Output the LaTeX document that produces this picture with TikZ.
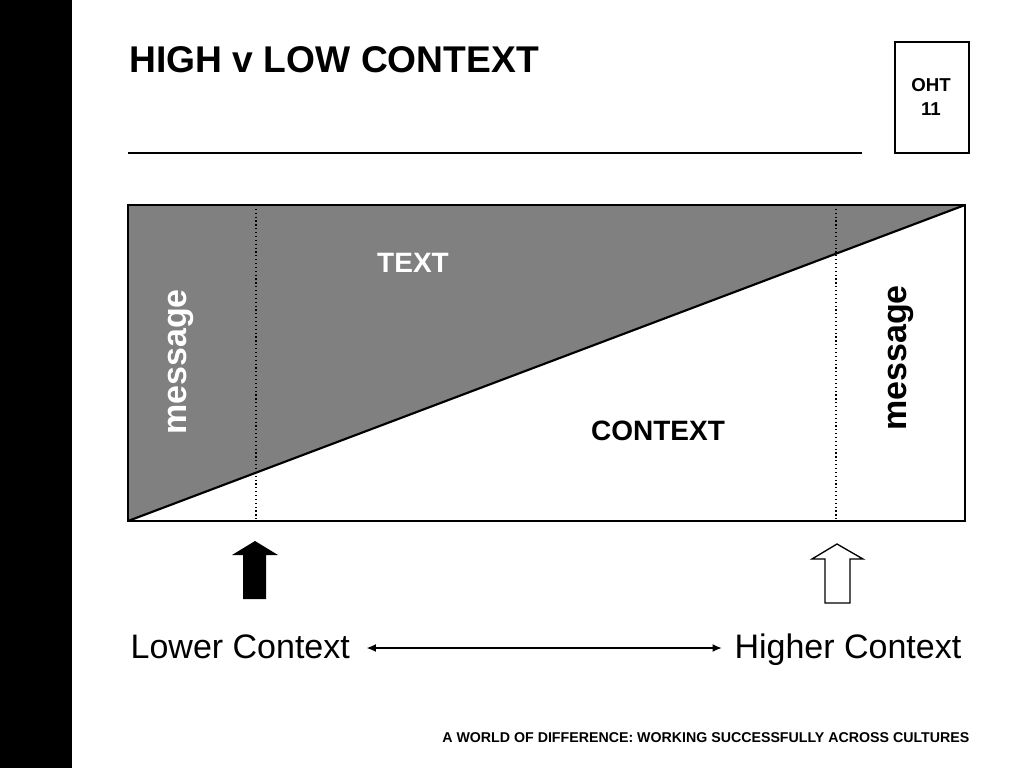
\documentclass[tikz,border=0pt]{standalone}
\usepackage{fontspec}
\setmainfont{Liberation Sans}
\usetikzlibrary{arrows.meta}

\begin{document}
\begin{tikzpicture}[x=0.75pt, y=-0.75pt, line width=1pt, every node/.style={inner sep=0pt}]

\useasboundingbox (0,0) rectangle (1024,768);

% draw black side bar
\fill[black] (0,0) rectangle (72,768);

% draw title and rule
\node[anchor=base west, font=\bfseries\fontsize{27.9}{30}\selectfont] (title) at (129,72) {HIGH v LOW CONTEXT};
\draw[line width=2.2pt] (128,153) -- (862,153);

% draw OHT box
\draw[line width=1.5pt] (895,42) rectangle (969,153);
\node[align=center, font=\bfseries\fontsize{14}{18}\selectfont] (oht) at (931,97) {OHT\\11};

% draw shaded text part and frame
\fill[gray] (128,521) -- (128,205) -- (965,205) -- cycle;
\draw (128,205) rectangle (965,521);
\draw[line width=1.6pt] (128,521) -- (965,205);

% draw dotted markers
\draw[dotted, line width=0.9pt] (256,205) -- (256,521);
\draw[dotted, line width=0.9pt] (836,205) -- (836,521);

% draw labels inside
\node[anchor=base, text=white, font=\bfseries\fontsize{21}{24}\selectfont] (text) at (413,272) {TEXT};
\node[anchor=base, font=\bfseries\fontsize{21}{24}\selectfont] (context) at (658,440) {CONTEXT};
\node[anchor=base, rotate=90, text=white, font=\bfseries\fontsize{25.5}{28}\selectfont] (msglow) at (186,362) {message};
\node[anchor=base, rotate=90, font=\bfseries\fontsize{25.5}{28}\selectfont] (msghigh) at (906,358) {message};

% draw block arrows
\fill[black] (243,599) -- (243,555) -- (232,555) -- (255,541) -- (278,555) -- (266,555) -- (266,599) -- cycle;
\draw[fill=white] (825,603) -- (825,559) -- (812,559) -- (837,544) -- (863,559) -- (850,559) -- (850,603) -- cycle;

% draw scale
\node[anchor=base west, font=\fontsize{25.5}{28}\selectfont] (lower) at (130,658) {Lower Context};
\node[anchor=base east, font=\fontsize{25.5}{28}\selectfont] (higher) at (962,658) {Higher Context};
\coordinate (scale) at (0,648);
\draw[line width=1.2pt, {Latex[length=7pt,width=6pt]}-{Latex[length=7pt,width=6pt]}, shorten <=12pt, shorten >=9pt] (lower.east |- scale) -- (higher.west |- scale);

% draw footer
\node[anchor=base east, font=\bfseries\fontsize{10.65}{12}\selectfont] (footer) at (970,742) {A WORLD OF DIFFERENCE: WORKING SUCCESSFULLY ACROSS CULTURES};

\end{tikzpicture}
\end{document}
